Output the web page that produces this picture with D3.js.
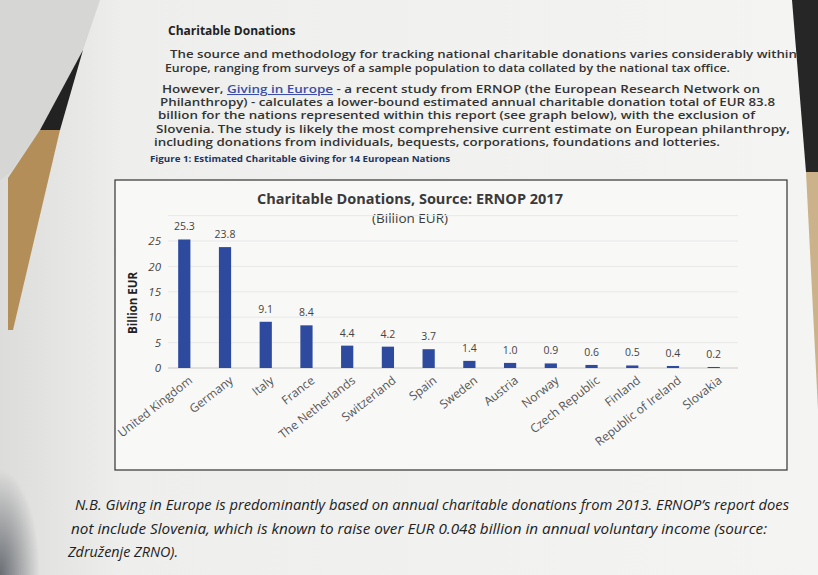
<!DOCTYPE html>
<html><head><meta charset="utf-8">
<script src="https://cdn.jsdelivr.net/npm/d3@7"></script>
<style>body{margin:0;background:#efefed;} svg{display:block;}</style>
</head><body>
<svg id="c" width="818" height="575"></svg>
<script>
const countries = ["United Kingdom","Germany","Italy","France","The Netherlands","Switzerland","Spain","Sweden","Austria","Norway","Czech Republic","Finland","Republic of Ireland","Slovakia"];
const values = [25.3,23.8,9.1,8.4,4.4,4.2,3.7,1.4,1.0,0.9,0.6,0.5,0.4,0.2];
const yTicks = [0,5,10,15,20,25];
const paragraph = [
  "The source and methodology for tracking national charitable donations varies considerably within",
  "Europe, ranging from surveys of a sample population to data collated by the national tax office.",
  "However, Giving in Europe - a recent study from ERNOP (the European Research Network on",
  "Philanthropy) - calculates a lower-bound estimated annual charitable donation total of EUR 83.8",
  "billion for the nations represented within this report (see graph below), with the exclusion of",
  "Slovenia. The study is likely the most comprehensive current estimate on European philanthropy,",
  "including donations from individuals, bequests, corporations, foundations and lotteries."
];
const footnote = [
  "N.B. Giving in Europe is predominantly based on annual charitable donations from 2013. ERNOP\u2019s report does",
  "not include Slovenia, which is known to raise over EUR 0.048 billion in annual voluntary income (source:",
  "Zdru\u017eenje ZRNO)."
];

const svg = d3.select("#c");
const font = "'Open Sans', sans-serif";
const defs = svg.append("defs");
const lg = defs.append("linearGradient").attr("id","pg").attr("x1",0).attr("y1",0).attr("x2",1).attr("y2",0);
lg.append("stop").attr("offset","0%").attr("stop-color","#dcdcda");
lg.append("stop").attr("offset","15%").attr("stop-color","#eeeeec");
lg.append("stop").attr("offset","100%").attr("stop-color","#f4f4f2");
const bl = defs.append("radialGradient").attr("id","bl").attr("cx",0).attr("cy",1).attr("r",1);
bl.append("stop").attr("offset","0%").attr("stop-color","#6a6e74");
bl.append("stop").attr("offset","100%").attr("stop-color","#6a6e74").attr("stop-opacity",0);

// page & surroundings
svg.append("rect").attr("x",0).attr("y",0).attr("width",818).attr("height",575).attr("fill","url(#pg)");
svg.append("polygon").attr("points","792,0 818,0 818,172 806,172").attr("fill","#262626");
svg.append("polygon").attr("points","806,172 818,172 818,410").attr("fill","#cbb28a");
svg.append("polygon").attr("points","0,0 100,0 83,50 40,130 10,173 0,180").attr("fill","#d6d6d4");
svg.append("polygon").attr("points","83,50 60,130 40,130").attr("fill","#222");
svg.append("polygon").attr("points","40,130 60,130 13,330 8,330 8,178").attr("fill","#b48e58");
svg.append("rect").attr("x",0).attr("y",470).attr("width",40).attr("height",105).attr("fill","url(#bl)");

// heading
svg.append("text").attr("x",168).attr("y",35).attr("font-family",font).attr("font-weight","bold")
  .attr("font-size",12).attr("fill","#222").text("Charitable Donations");

const paraLayout = [[170,58,627],[165,72,565],[162,93,598],[160,106,615],[158,119,597],[156,133,634],[154,146,566]];
paragraph.forEach((t,i)=>{
  const [x,y,w] = paraLayout[i];
  const el = svg.append("text").attr("x",x).attr("y",y).attr("font-family",font).attr("font-weight",600)
    .attr("font-size",10.3).attr("fill","#333").attr("textLength",w).attr("lengthAdjust","spacingAndGlyphs");
  if(i===2){
    el.append("tspan").text("However, ");
    el.append("tspan").attr("fill","#3b4ea8").attr("text-decoration","underline").text("Giving in Europe");
    el.append("tspan").text(t.slice("However, Giving in Europe".length));
  } else el.text(t);
});
svg.append("text").attr("x",150).attr("y",162).attr("font-family",font).attr("font-weight","bold")
  .attr("font-size",9.6).attr("fill","#1f3460").attr("textLength",300).attr("lengthAdjust","spacingAndGlyphs")
  .text("Figure 1: Estimated Charitable Giving for 14 European Nations");

// chart box
svg.append("rect").attr("x",115).attr("y",180).attr("width",672).attr("height",290)
  .attr("fill","#f8f8f7").attr("stroke","#333").attr("stroke-width",1.2);

svg.append("text").attr("x",410).attr("y",204).attr("text-anchor","middle").attr("font-family",font)
  .attr("font-weight","bold").attr("font-size",14.5).attr("fill","#3a3a3a").text("Charitable Donations, Source: ERNOP 2017");
svg.append("text").attr("x",410).attr("y",223).attr("text-anchor","middle").attr("font-family",font)
  .attr("font-size",13.5).attr("fill","#3a3a3a").text("(Billion EUR)");

const x = d3.scaleBand().domain(countries).range([168,730]).paddingInner(0.7).paddingOuter(0.25);
const y = d3.scaleLinear().domain([0,25]).range([368,241]);

const g = svg.append("g");
g.selectAll("line.grid").data(yTicks.concat([30])).join("line").attr("class","grid")
  .attr("x1",168).attr("x2",738).attr("y1",d=>y(d)).attr("y2",d=>y(d))
  .attr("stroke",d=>d===0?"#c8c8c8":"#e8e8e8").attr("stroke-width",1);

const yAxis = g.append("g").attr("transform","translate(169,0)")
  .call(d3.axisLeft(y).tickValues(yTicks).tickSize(0).tickPadding(8));
yAxis.select(".domain").remove();
yAxis.selectAll("text").attr("font-family",font).attr("font-size",11.5).attr("fill","#444").attr("font-style","italic");

svg.append("text").attr("transform","translate(137,303) rotate(-90)").attr("text-anchor","middle")
  .attr("font-family",font).attr("font-weight","bold").attr("font-size",11.5).attr("fill","#222").text("Billion EUR");

g.selectAll("rect.bar").data(values).join("rect").attr("class","bar")
  .attr("x",(d,i)=>x(countries[i])).attr("width",x.bandwidth())
  .attr("y",d=>y(d)).attr("height",d=>y(0)-y(d)).attr("fill","#2e4a9e");

g.selectAll("text.val").data(values).join("text").attr("class","val")
  .attr("x",(d,i)=>x(countries[i])+x.bandwidth()/2).attr("y",d=>y(d)-9)
  .attr("text-anchor","middle").attr("font-family",font).attr("font-size",10.5).attr("fill","#444")
  .text(d=>d.toFixed(1));

const xAxis = g.append("g").attr("transform",`translate(0,${y(0)})`)
  .call(d3.axisBottom(x).tickSize(0).tickPadding(0));
xAxis.select(".domain").remove();
xAxis.selectAll("text").attr("font-family",font).attr("font-size",12).attr("fill","#555")
  .attr("text-anchor","end").attr("dy",0)
  .attr("transform","translate(9,14) rotate(-38)");

// footnote
const footLayout = [[75,510,714],[71,534,696],[68,557,110]];
footnote.forEach((t,i)=>{
  const [fx,fy,w] = footLayout[i];
  svg.append("text").attr("x",fx).attr("y",fy).attr("font-family",font).attr("font-style","italic")
    .attr("font-size",14).attr("fill","#222").attr("textLength",w).attr("lengthAdjust","spacingAndGlyphs").text(t);
});
</script>
</body></html>
